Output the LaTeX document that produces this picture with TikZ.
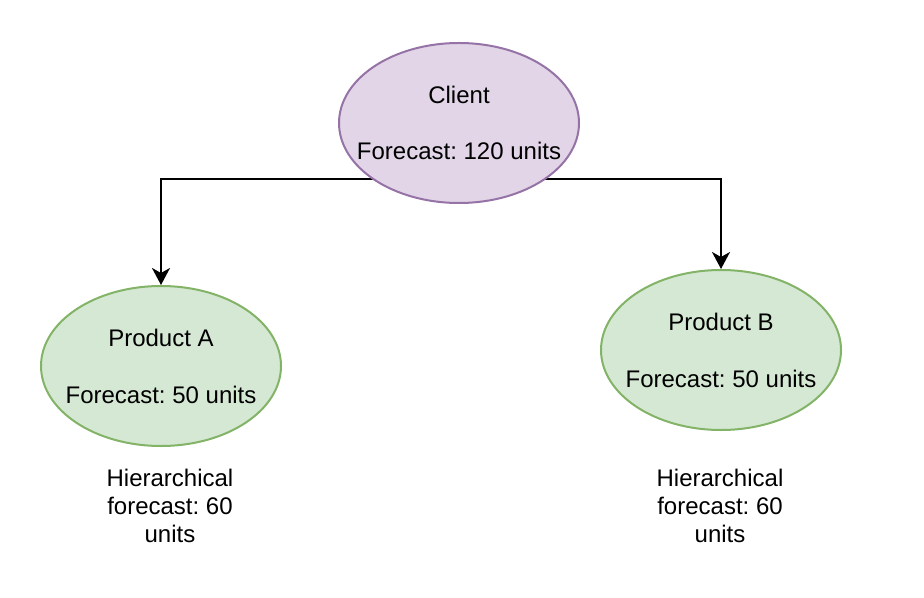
\documentclass[tikz,border=0pt]{standalone}
\usepackage{fontspec}
\setmainfont{Liberation Sans}
\frenchspacing
\usetikzlibrary{arrows.meta,backgrounds,shapes.geometric}
\definecolor{purfill}{HTML}{E1D5E7}
\definecolor{purline}{HTML}{9673A6}
\definecolor{grnfill}{HTML}{D5E8D4}
\definecolor{grnline}{HTML}{82B366}
\tikzset{
  oval/.style={ellipse, minimum width=120pt, minimum height=80pt, inner sep=0pt, line width=1pt},
  purple oval/.style={oval, draw=purline, fill=purfill},
  green oval/.style={oval, draw=grnline, fill=grnfill},
  label text/.style={align=center, inner sep=0pt, font=\fontsize{12}{14}\selectfont\frenchspacing},
  note/.style={align=center, inner sep=0pt, font=\fontsize{12}{14.2}\selectfont\frenchspacing},
  conn/.style={line width=1pt, draw=black, -{Stealth[length=8.5pt,width=9pt,inset=2.5pt]}}
}
\begin{document}
\begin{tikzpicture}[x=0.5pt,y=-0.5pt]
\useasboundingbox (0,0) rectangle (924,598);
\node[purple oval] (client) at (459,123) {};
\node[label text] (clientt) at (client.center) {Client\\[14pt]Forecast: 120 units};
\node[green oval] (pa) at (161,366) {};
\node[label text] (pat) at (pa.center) {Product A\\[14.5pt]Forecast: 50 units};
\node[green oval] (pb) at (721,350) {};
\node[label text] (pbt) at (pb.center) {Product B\\[14.5pt]Forecast: 50 units};
\node[note] (ha) at (170,506) {Hierarchical\\forecast: 60\\units};
\node[note] (hb) at (720,506) {Hierarchical\\forecast: 60\\units};
\begin{pgfonlayer}{background}
\draw[conn] ([yshift=-28pt]client.center) -| (pa.north);
\draw[conn] ([yshift=-28pt]client.center) -| (pb.north);
\end{pgfonlayer}
\end{tikzpicture}
\end{document}
